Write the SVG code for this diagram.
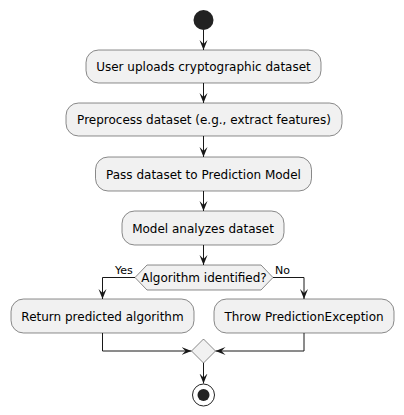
<svg xmlns="http://www.w3.org/2000/svg" width="404" height="415" viewBox="0 0 404 415">
<style>
.box{fill:#F1F1F1;stroke:#181818;stroke-width:0.5}
.t{font-family:"DejaVu Sans",sans-serif;font-size:12px;fill:#000;text-anchor:middle}
.lbl{font-family:"DejaVu Sans",sans-serif;font-size:11px;fill:#000}
.c{fill:none;stroke:#181818;stroke-width:1}
</style>
<defs>
<marker id="ah" markerUnits="userSpaceOnUse" markerWidth="12" markerHeight="10" refX="10" refY="4" orient="auto">
<path d="M0,0 L10,4 L0,8 L4,4 Z" fill="#181818"/>
</marker>
</defs>
<g id="connectors">
<path class="c" d="M203.5,30 V50" marker-end="url(#ah)"/>
<path class="c" d="M203.5,83 V103" marker-end="url(#ah)"/>
<path class="c" d="M203.5,136 V157" marker-end="url(#ah)"/>
<path class="c" d="M203.5,191 V211" marker-end="url(#ah)"/>
<path class="c" d="M203.5,245 V265" marker-end="url(#ah)"/>
<path class="c" d="M135,277.5 H102.5 V299" marker-end="url(#ah)"/>
<path class="c" d="M273,277.5 H304 V299" marker-end="url(#ah)"/>
<path class="c" d="M102.5,333 V351 H191.5" marker-end="url(#ah)"/>
<path class="c" d="M304,333 V351 H215.5" marker-end="url(#ah)"/>
<path class="c" d="M203.5,363 V383.5" marker-end="url(#ah)"/>
<text class="lbl" x="115" y="274">Yes</text>
<text class="lbl" x="275" y="274">No</text>
</g>
<g id="start"><circle cx="203.5" cy="20" r="10" fill="#222222"/></g>
<g id="n1"><rect class="box" x="86" y="50" width="235" height="33" rx="12.5"/><text class="t" x="203.5" y="71">User uploads cryptographic dataset</text></g>
<g id="n2"><rect class="box" x="66" y="103" width="276" height="33" rx="12.5"/><text class="t" x="204" y="124">Preprocess dataset (e.g., extract features)</text></g>
<g id="n3"><rect class="box" x="95.5" y="157" width="216" height="34" rx="12.5"/><text class="t" x="203.5" y="178.5">Pass dataset to Prediction Model</text></g>
<g id="n4"><rect class="box" x="122" y="211" width="162" height="34" rx="12.5"/><text class="t" x="203" y="232.5">Model analyzes dataset</text></g>
<g id="decision"><polygon class="box" points="135,277.5 147,265 261,265 273,277.5 261,290 147,290"/><text class="t" x="204" y="282">Algorithm identified?</text></g>
<g id="n5"><rect class="box" x="11" y="299" width="183" height="34" rx="12.5"/><text class="t" x="102.5" y="320.5">Return predicted algorithm</text></g>
<g id="n6"><rect class="box" x="214" y="299" width="180" height="34" rx="12.5"/><text class="t" x="304" y="320.5">Throw PredictionException</text></g>
<g id="merge"><polygon class="box" points="203.5,339 215.5,351 203.5,363 191.5,351"/></g>
<g id="end"><circle cx="203.5" cy="395" r="11" fill="none" stroke="#222222" stroke-width="1"/><circle cx="203.5" cy="395" r="6" fill="#222222"/></g>
</svg>
